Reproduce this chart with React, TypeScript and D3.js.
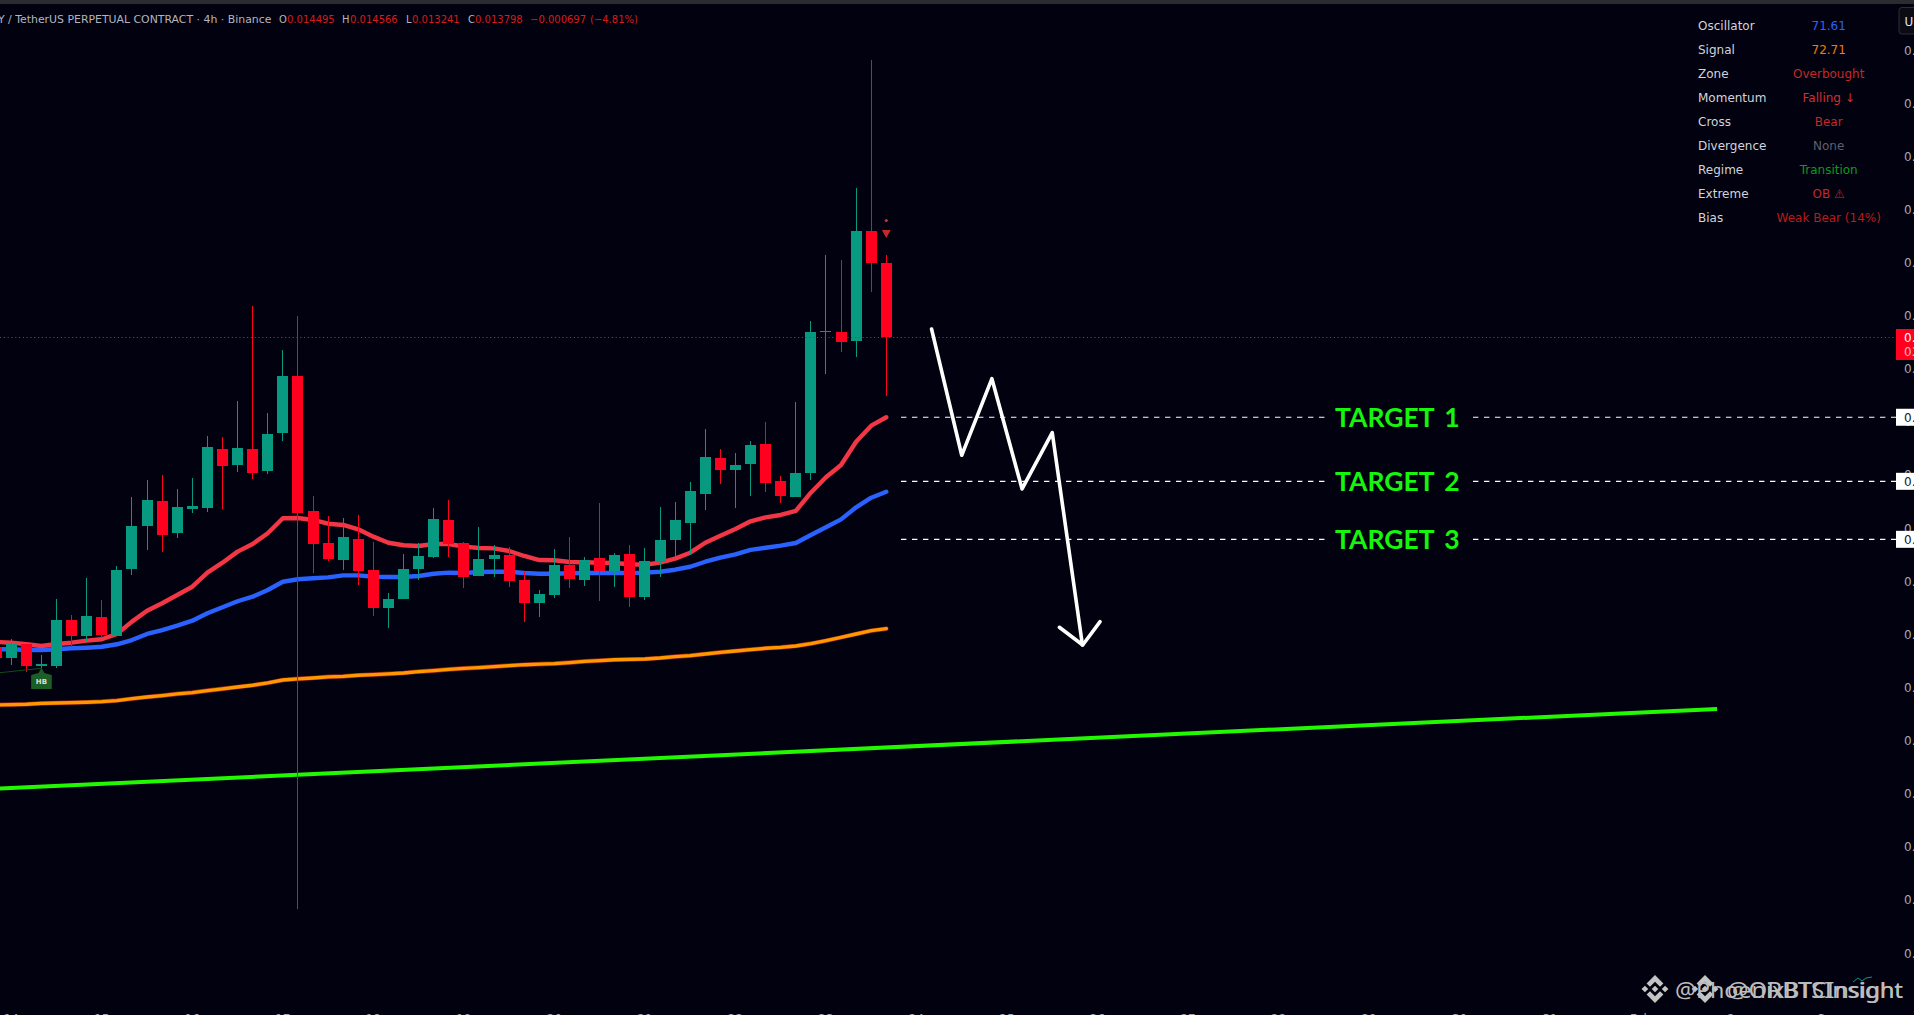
import * as d3 from "d3";

// prices are in millionths of USDT (10909 = 0.010909)
const opens = [10878,10777,10909,10702,10702,11135,10984,11163,10984,11615,12019,12255,11954,12179,12189,12744,12594,12744,12537,12895,13431,12161,11859,11699,11897,11605,11248,11332,11615,11728,12076,11859,11549,11709,11746,11511,11295,11370,11652,11511,11718,11596,11756,11351,11681,11888,12048,12321,12659,12547,12603,12791,12443,12292,12518,13846,13846,13761,14796,14495];
const highs = [10878,10953,10909,10805,11332,11182,11530,11323,11643,12292,12452,12500,12368,12471,12867,12857,13196,14090,13083,13676,13996,12302,12114,12095,12123,11869,11389,11756,11859,12189,12264,11869,12010,11841,11822,11586,11417,11803,11916,11728,12236,11765,11841,11812,12198,12245,12434,12932,12744,12707,12820,12998,12490,13187,13949,14570,14523,15201,16406,14566];
const lows = [10777,10711,10648,10683,10686,10878,10937,10965,10984,11558,11794,11775,11906,12142,12151,12179,12528,12462,12509,12820,8410,11577,11690,11605,11464,11172,11059,11332,11511,11718,11728,11436,11549,11539,11445,11116,11163,11342,11436,11455,11313,11445,11257,11323,11539,11737,11746,12170,12415,12189,12302,12340,12236,12292,12452,13450,13657,13610,14222,13241];
const closes = [10777,10909,10702,10720,11135,10984,11172,10993,11605,12019,12264,11935,12198,12208,12763,12584,12754,12518,12885,13431,12142,11850,11709,11916,11596,11248,11332,11615,11737,12085,11850,11539,11709,11746,11502,11295,11379,11652,11521,11699,11596,11746,11351,11690,11888,12076,12349,12669,12547,12594,12782,12424,12302,12518,13846,13855,13751,14796,14495,13798];

const emaFast = [10928,10921,10906,10890,10909,10921,10940,10953,11003,11119,11222,11292,11370,11448,11580,11674,11778,11850,11951,12092,12095,12076,12041,12029,11988,11919,11862,11838,11831,11850,11850,11825,11812,11809,11784,11737,11699,11697,11681,11678,11674,11671,11659,11655,11674,11712,11768,11862,11928,11991,12064,12101,12123,12161,12333,12478,12594,12813,12964,13043];
const emaMid = [10859,10859,10852,10852,10859,10868,10874,10883,10906,10946,11003,11040,11081,11128,11198,11254,11311,11354,11417,11495,11518,11527,11536,11555,11555,11542,11539,11539,11549,11570,11580,11577,11586,11589,11589,11577,11570,11570,11574,11577,11577,11577,11577,11580,11589,11608,11636,11683,11721,11753,11794,11815,11834,11859,11935,12007,12082,12195,12286,12342];
const emaSlow = [10335,10338,10341,10350,10353,10357,10360,10366,10376,10394,10410,10423,10439,10451,10470,10486,10504,10520,10542,10570,10580,10589,10599,10604,10614,10620,10627,10636,10649,10658,10670,10679,10686,10696,10705,10714,10719,10724,10733,10745,10752,10761,10764,10768,10777,10790,10799,10815,10830,10843,10856,10868,10877,10890,10912,10940,10971,11003,11034,11053];

const trendIndex = [0.25, 114.07];
const trendPrice = [9548, 10297];

const pathIndex = [62, 64, 66, 68, 70, 72];
const pathPrice = [13874, 12685, 13406, 12368, 12898, 10899];
const headIndex = [70.47, 72.02, 73.17];
const headPrice = [11066, 10899, 11119];

const targetNames = ["TARGET 1", "TARGET 2", "TARGET 3"];
const targetPrices = [13043, 12440, 11894];

const priceTicks = d3.range(8000, 16501, 500);
const lastPrice = 13798;
const dayLabels = ["14","15","16","17","18","19","20","21","22","23","24","25","26","27","28","29","30","31","Feb","2","3"];

const panelLabels = ["Oscillator","Signal","Zone","Momentum","Cross","Divergence","Regime","Extreme","Bias"];
const panelValues = ["71.61","72.71","Overbought","Falling ↓","Bear","None","Transition","OB ⚠","Weak Bear (14%)"];
const panelColors = ["#2962ff","#f57c00","#c62828","#d32f2f","#c62828","#5d606b","#0b9a1c","#c62828","#b71c1c"];

const BG = "#02010f";
const UP = "#089981";
const DOWN = "#ff001e";
const FONT = "'DejaVu Sans', sans-serif";

const x = d3.scaleLinear().domain([0, 59]).range([-3.8, 886.3]);
const y = d3.scaleLinear().domain([16500, 8000]).range([50, 953]);

const emaLine = d3
  .line<number>()
  .x((_, i) => x(i))
  .y((v) => y(v));

const zip = (xs: number[], ys: number[]) =>
  xs.map((v, i) => [x(v), y(ys[i])] as [number, number]);
const polyline = d3.line();

const px = (v: number) => Math.floor(v) + 0.5;

const BinanceMark = ({ cx, cy, r }: { cx: number; cy: number; r: number }) => (
  <g transform={`translate(${cx},${cy}) scale(${r / 10})`} fill="#c4c4c4">
    <path d="M0,-10 L6,-4 L3.6,-1.6 L0,-5.2 L-3.6,-1.6 L-6,-4 Z" />
    <path d="M0,10 L6,4 L3.6,1.6 L0,5.2 L-3.6,1.6 L-6,4 Z" />
    <path d="M-7.2,-2.4 L-4.8,0 L-7.2,2.4 L-9.6,0 Z" />
    <path d="M7.2,-2.4 L9.6,0 L7.2,2.4 L4.8,0 Z" />
    <path d="M0,-2.4 L2.4,0 L0,2.4 L-2.4,0 Z" />
  </g>
);

const Header = () => {
  const red = "#d81b1b";
  const grey = "#b2b5be";
  const parts: [number, string, string][] = [
    [279, "O", grey],
    [287, "0.014495", red],
    [342, "H", grey],
    [350, "0.014566", red],
    [406, "L", grey],
    [412, "0.013241", red],
    [468, "C", grey],
    [475, "0.013798", red],
    [530, "−0.000697", red],
    [590, "(−4.81%)", red],
  ];
  return (
    <g fontFamily={FONT} fontSize={10}>
      <text x={-2} y={22.5} fontSize={10.9} fill={grey}>
        Y / TetherUS PERPETUAL CONTRACT · 4h · Binance
      </text>
      {parts.map(([tx, label, fill]) => (
        <text key={tx} x={tx} y={22.5} fill={fill}>
          {label}
        </text>
      ))}
    </g>
  );
};

const App = () => {
  return (
    <svg
      width={1914}
      height={1015}
      style={{ position: "fixed", left: 0, top: 0, display: "block" }}
    >
      <rect width={1914} height={1015} fill={BG} />
      <rect width={1914} height={4} fill="#2b2b30" />

      {/* moving averages and trend line sit under the candles */}
      <path
        d={polyline(zip(trendIndex, trendPrice)) ?? ""}
        fill="none"
        stroke="#22f800"
        strokeWidth={4}
      />
      <path d={emaLine(emaSlow) ?? ""} fill="none" stroke="#8a2012" strokeWidth={4.6} strokeLinecap="round" />
      <path d={emaLine(emaSlow) ?? ""} fill="none" stroke="#ff9800" strokeWidth={3.4} strokeLinecap="round" />
      <path d={emaLine(emaMid) ?? ""} fill="none" stroke="#2962ff" strokeWidth={4.4} strokeLinecap="round" strokeLinejoin="round" />
      <path d={emaLine(emaFast) ?? ""} fill="none" stroke="#f23645" strokeWidth={4.4} strokeLinecap="round" strokeLinejoin="round" />

      <g shapeRendering="crispEdges">
        {opens.map((open, i) => {
          const close = closes[i];
          const color = close >= open ? UP : DOWN;
          const cx = px(x(i));
          const top = Math.round(y(Math.max(open, close)));
          const bottom = Math.round(y(Math.min(open, close)));
          return (
            <g key={i}>
              <line x1={cx} x2={cx} y1={y(highs[i])} y2={y(lows[i])} stroke={color} />
              <rect
                x={cx - 5.5}
                y={top}
                width={11}
                height={Math.max(1, bottom - top)}
                fill={color}
              />
            </g>
          );
        })}
      </g>

      {/* HB signal tag under the third candle */}
      <path d={`M0,672.7 L${x(3)},668.3`} stroke="#114d1a" strokeWidth={1} fill="none" />
      <path
        d={`M${x(3) - 10.3},675 L${x(3) - 3},673 L${x(3)},668 L${x(3) + 3},673 L${x(3) + 10.3},675 L${x(3) + 10.3},689 L${x(3) - 10.3},689 Z`}
        fill="#1c5f26"
      />
      <text x={x(3)} y={684} fontFamily={FONT} fontSize={7} fontWeight="bold" textAnchor="middle" fill="#dcdcdc">
        HB
      </text>

      {/* sell marker above the last candle */}
      <circle cx={x(59)} cy={220.5} r={1.5} fill="#d93030" />
      <path
        d={`M${x(59) - 4.4},230 L${x(59) + 4.4},230 L${x(59)},238 Z`}
        fill="#c62828"
      />

      {/* last price line */}
      <line
        x1={0}
        x2={1896}
        y1={px(y(lastPrice))}
        y2={px(y(lastPrice))}
        stroke={DOWN}
        strokeDasharray="1.2 2.6"
      />

      {/* targets */}
      {targetNames.map((name, i) => {
        const ty = y(targetPrices[i]);
        return (
          <g key={name}>
            <line x1={901} x2={1896} y1={ty} y2={ty} stroke="#fff" strokeWidth={1.2} strokeDasharray="5.4 5.6" />
            <rect x={1325} y={ty - 14} width={148} height={28} fill={BG} />
            <text
              x={1335}
              y={ty + 9.6}
              fontFamily="Lato, sans-serif"
              fontWeight="bold"
              fontSize={26.5}
              wordSpacing={4}
              fill="#16f50c"
            >
              {name}
            </text>
          </g>
        );
      })}

      {/* projected move */}
      <path
        d={polyline(zip(pathIndex, pathPrice)) ?? ""}
        fill="none"
        stroke="#fff"
        strokeWidth={3.6}
        strokeLinecap="round"
        strokeLinejoin="round"
      />
      <path
        d={polyline(zip(headIndex, headPrice)) ?? ""}
        fill="none"
        stroke="#fff"
        strokeWidth={3.6}
        strokeLinecap="round"
        strokeLinejoin="round"
      />

      {/* price axis */}
      <g fontFamily={FONT} fontSize={12} fill="#a6a9b2">
        {priceTicks.map((tick) => (
          <text key={tick} x={1904} y={y(tick) + 4.5}>
            {(tick / 1e6).toFixed(4)}
          </text>
        ))}
      </g>
      {targetNames.map((name, i) => (
        <g key={`box-${name}`}>
          <rect x={1896} y={y(targetPrices[i]) - 8.5} width={18} height={17} fill="#fff" />
          <text x={1904} y={y(targetPrices[i]) + 4.5} fontFamily={FONT} fontSize={12} fill="#131722">
            {(targetPrices[i] / 1e6).toFixed(6)}
          </text>
        </g>
      ))}
      <rect x={1896} y={329} width={18} height={31} fill={DOWN} />
      <text x={1904} y={341.5} fontFamily={FONT} fontSize={12} fill="#fff">
        {(lastPrice / 1e6).toFixed(6)}
      </text>
      <text x={1904} y={356} fontFamily={FONT} fontSize={12} fill="#f5b5bb">
        03:12:08
      </text>

      {/* time axis, only the tops of its labels are on the page */}
      <g fontFamily={FONT} fontSize={12} fill="#a6a9b2" textAnchor="middle">
        {dayLabels.map((label, i) => (
          <text key={i} x={x(1 + 6 * i)} y={1022.5}>
            {label}
          </text>
        ))}
      </g>

      <Header />

      {/* indicator table */}
      <g fontFamily={FONT} fontSize={12}>
        {panelLabels.map((label, i) => (
          <g key={label}>
            <text x={1698} y={29.7 + 24 * i} fill="#d1d4dc">
              {label}
            </text>
            <text x={1828.7} y={29.7 + 24 * i} fill={panelColors[i]} textAnchor="middle">
              {panelValues[i]}
            </text>
          </g>
        ))}
      </g>

      {/* scale mode button */}
      <rect x={1899} y={7.5} width={20} height={26.5} rx={3} fill="#0b0b14" stroke="#2a2e39" />
      <text x={1904.5} y={26} fontFamily={FONT} fontSize={12} fill="#e0e3eb">
        U
      </text>

      {/* the two overlaid watermarks */}
      <path d="M1853,982 L1858,978 L1862,981 L1866,978 L1872,977" fill="none" stroke={UP} strokeWidth={1} />
      <BinanceMark cx={1655} cy={989} r={14} />
      <BinanceMark cx={1705} cy={989} r={14} />
      <g fontFamily="'Noto Sans', sans-serif" fontSize={22} fill="#bdbdbd">
        <text x={1675} y={998} textLength={228} lengthAdjust="spacingAndGlyphs">
          @PhoenixBTCInsight
        </text>
        <text x={1727} y={998} textLength={176} lengthAdjust="spacingAndGlyphs">
          @ORBTSInsight
        </text>
      </g>
    </svg>
  );
};

export default App;
